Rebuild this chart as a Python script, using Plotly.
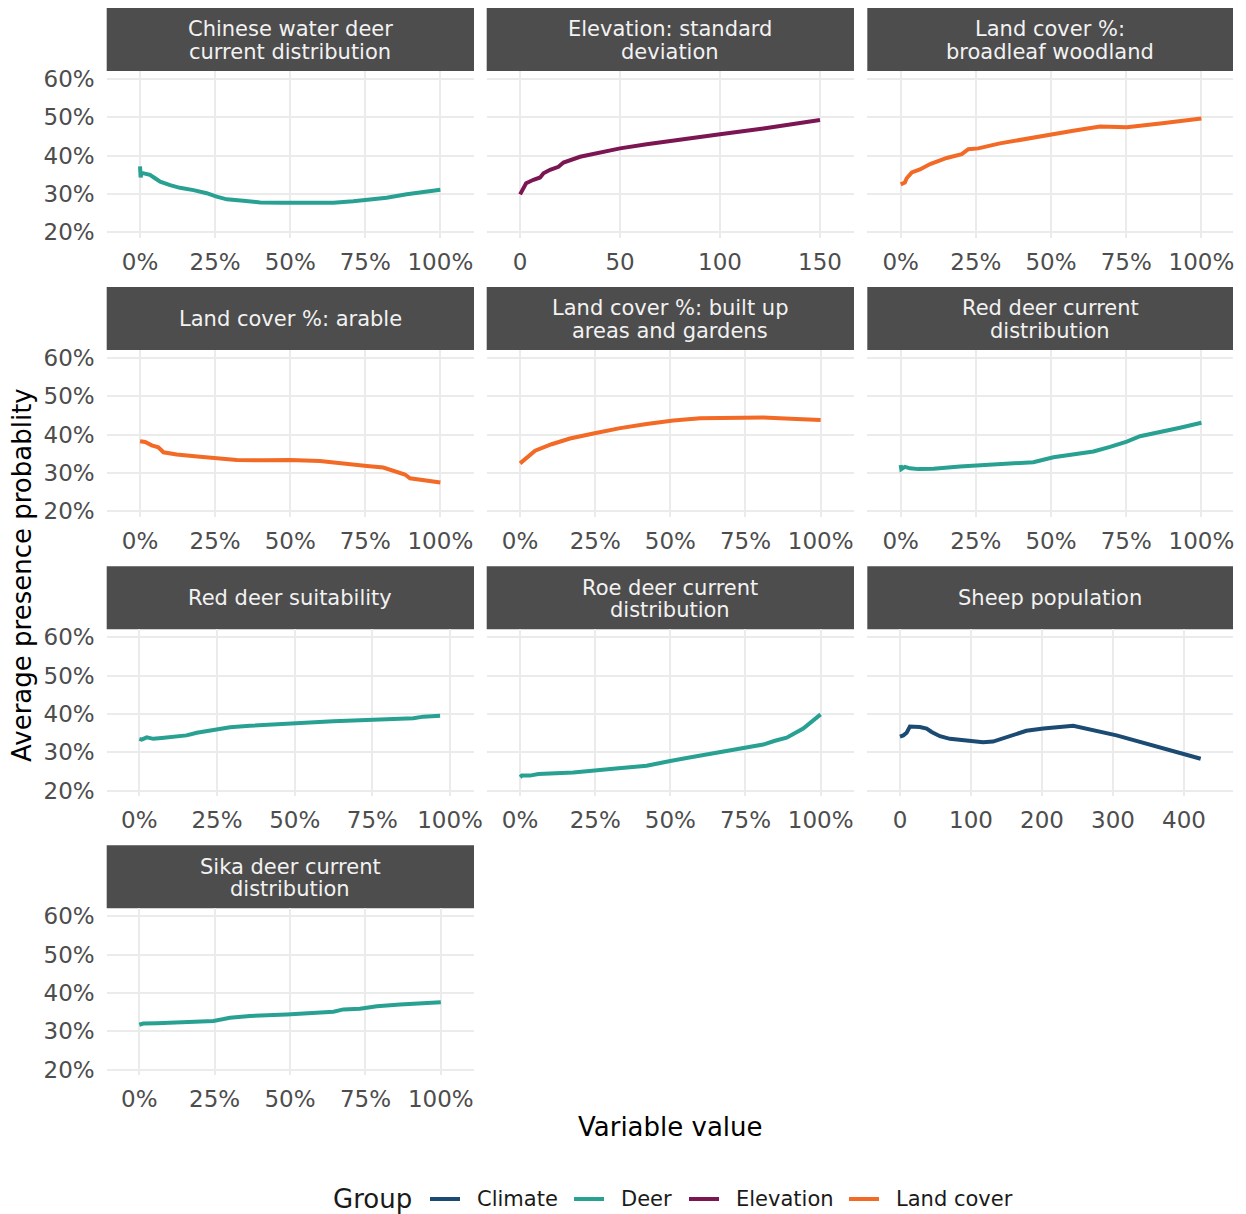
import plotly.graph_objects as go

W, H = 1246, 1214
PAGE_OFFSET = 8  # the page body adds an 8px margin round the figure div

# ---- data (x = variable value, y = average presence probability)
cwd_x = [0, 0.002, 0.005, 0.011, 0.033, 0.05, 0.067, 0.1, 0.133, 0.178, 0.222, 0.255, 0.289,
         0.344, 0.4, 0.477, 0.588, 0.644, 0.71, 0.755, 0.821, 0.888, 0.943, 1.0]
cwd_y = [0.372, 0.343, 0.355, 0.354, 0.35, 0.341, 0.332, 0.323, 0.316, 0.31, 0.302, 0.293, 0.286,
         0.282, 0.278, 0.277, 0.276, 0.277, 0.281, 0.284, 0.29, 0.299, 0.305, 0.311]

elev_x = [0, 1.3, 3, 6.7, 10, 11.7, 15, 19.2, 21.7, 30, 38.3, 50, 63.3, 80, 100, 121.7, 150]
elev_y = [0.299, 0.312, 0.328, 0.337, 0.343, 0.354, 0.363, 0.371, 0.382, 0.397, 0.406, 0.419,
          0.43, 0.443, 0.456, 0.471, 0.493]

broad_x = [0, 0.014, 0.02, 0.037, 0.064, 0.098, 0.153, 0.203, 0.225, 0.258, 0.33, 0.419, 0.497,
           0.574, 0.663, 0.752, 0.863, 1.0]
broad_y = [0.325, 0.33, 0.341, 0.356, 0.364, 0.378, 0.394, 0.404, 0.417, 0.419, 0.432, 0.445,
           0.454, 0.465, 0.476, 0.474, 0.484, 0.497]

arable_x = [0, 0.017, 0.039, 0.061, 0.078, 0.122, 0.2, 0.255, 0.322, 0.422, 0.499, 0.599, 0.644,
            0.699, 0.755, 0.81, 0.843, 0.882, 0.899, 0.943, 1.0]
arable_y = [0.383, 0.381, 0.372, 0.367, 0.354, 0.348, 0.342, 0.339, 0.334, 0.333, 0.334, 0.331,
            0.328, 0.323, 0.318, 0.314, 0.306, 0.296, 0.286, 0.281, 0.275]

built_x = [0, 0.05, 0.105, 0.166, 0.244, 0.333, 0.421, 0.51, 0.599, 0.698, 0.809, 0.92, 1.0]
built_y = [0.325, 0.358, 0.375, 0.39, 0.403, 0.417, 0.428, 0.437, 0.443, 0.445, 0.445, 0.441, 0.438]

redcur_x = [0, 0.002, 0.014, 0.031, 0.059, 0.109, 0.197, 0.308, 0.397, 0.441, 0.508, 0.585,
            0.641, 0.696, 0.752, 0.796, 0.863, 0.929, 1.0]
redcur_y = [0.321, 0.31, 0.316, 0.312, 0.31, 0.311, 0.317, 0.322, 0.327, 0.328, 0.341, 0.351,
            0.356, 0.368, 0.382, 0.396, 0.406, 0.418, 0.431]

redsuit_x = [0, 0.0075, 0.024, 0.045, 0.072, 0.109, 0.152, 0.185, 0.227, 0.26, 0.292, 0.356,
             0.431, 0.517, 0.624, 0.732, 0.839, 0.882, 0.914, 0.968]
redsuit_y = [0.335, 0.333, 0.339, 0.335, 0.337, 0.34, 0.344, 0.351, 0.356, 0.359, 0.365, 0.369,
             0.373, 0.376, 0.381, 0.384, 0.386, 0.389, 0.393, 0.395]

roe_x = [0, 0.006, 0.033, 0.061, 0.177, 0.266, 0.31, 0.421, 0.477, 0.504, 0.554, 0.643, 0.754,
         0.809, 0.848, 0.887, 0.942, 0.976, 1.0]
roe_y = [0.235, 0.239, 0.239, 0.243, 0.247, 0.252, 0.257, 0.265, 0.272, 0.278, 0.285, 0.298,
         0.312, 0.32, 0.33, 0.338, 0.362, 0.383, 0.399]

sheep_x = [0, 4.7, 9.4, 14, 28, 37.6, 44.6, 56.3, 70.4, 98.6, 117, 131, 145.5, 178, 202, 244,
           305, 357, 423.5]
sheep_y = [0.341, 0.344, 0.351, 0.367, 0.366, 0.362, 0.353, 0.342, 0.335, 0.328, 0.326, 0.328,
           0.337, 0.356, 0.362, 0.369, 0.344, 0.318, 0.283]

sika_x = [0, 0.013, 0.058, 0.146, 0.246, 0.301, 0.367, 0.489, 0.6, 0.644, 0.677, 0.732, 0.788,
          0.865, 1.0]
sika_y = [0.317, 0.32, 0.321, 0.323, 0.327, 0.335, 0.34, 0.344, 0.349, 0.351, 0.357, 0.359,
          0.365, 0.37, 0.376]

GROUPS = ["Climate", "Deer", "Elevation", "Land cover"]
GROUP_COLORS = {
    "Climate": "#1b4a72",
    "Deer": "#28a193",
    "Elevation": "#7b1653",
    "Land cover": "#f26a26",
}

PCT_TICKS = [0, 0.25, 0.5, 0.75, 1.0]

# (strip lines, group, x, y, tickvals, percent?, x range)
panels = [
    (["Chinese water deer", "current distribution"], "Deer", cwd_x, cwd_y, PCT_TICKS, True, [-0.111, 1.112]),
    (["Elevation: standard", "deviation"], "Elevation", elev_x, elev_y, [0, 50, 100, 150], False, [-16.7, 167]),
    (["Land cover %:", "broadleaf woodland"], "Land cover", broad_x, broad_y, PCT_TICKS, True, [-0.111, 1.105]),
    (["Land cover %: arable"], "Land cover", arable_x, arable_y, PCT_TICKS, True, [-0.111, 1.112]),
    (["Land cover %: built up", "areas and gardens"], "Land cover", built_x, built_y, PCT_TICKS, True, [-0.111, 1.111]),
    (["Red deer current", "distribution"], "Deer", redcur_x, redcur_y, PCT_TICKS, True, [-0.111, 1.105]),
    (["Red deer suitability"], "Deer", redsuit_x, redsuit_y, PCT_TICKS, True, [-0.105, 1.077]),
    (["Roe deer current", "distribution"], "Deer", roe_x, roe_y, PCT_TICKS, True, [-0.111, 1.111]),
    (["Sheep population"], "Climate", sheep_x, sheep_y, [0, 100, 200, 300, 400], False, [-46, 469]),
    (["Sika deer current", "distribution"], "Deer", sika_x, sika_y, PCT_TICKS, True, [-0.108, 1.110]),
]

# panel geometry in screen pixels
COL_X = [(106.7, 474.0), (486.7, 854.0), (867.3, 1233.0)]
ROW_TOP = [71.0, 350.0, 629.3, 908.3]
PANEL_H = 167.0
STRIP_H = 63.0


def px(x):
    return (x - PAGE_OFFSET) / W


def py(y):
    return 1 - (y - PAGE_OFFSET) / H


FONT = "DejaVu Sans"
TICK_COL = "#4d4d4d"
GRID = "#ebebeb"

fig = go.Figure()
shapes = []
annotations = []

for i, (strip, group, xs, ys, tv, pct, xr) in enumerate(panels):
    r, c = divmod(i, 3)
    n = "" if i == 0 else str(i + 1)
    x0, x1 = COL_X[c]
    top = ROW_TOP[r]
    bot = top + PANEL_H

    fig.add_trace(go.Scatter(
        x=xs, y=ys, mode="lines",
        line=dict(color=GROUP_COLORS[group], width=4),
        name=group, showlegend=False,
        xaxis="x" + n, yaxis="y" + n,
    ))

    fig.layout["xaxis" + n] = dict(
        domain=[px(x0), px(x1)], anchor="y" + n, range=xr,
        tickvals=tv, tickformat=".0%" if pct else "d",
        showgrid=True, gridcolor=GRID, gridwidth=2, zeroline=False, showline=False,
        ticks="", ticklabelstandoff=8, automargin=False,
        tickfont=dict(family=FONT, size=23, color=TICK_COL),
    )
    fig.layout["yaxis" + n] = dict(
        domain=[py(bot), py(top)], anchor="x" + n, range=[0.185, 0.621],
        tickvals=[0.2, 0.3, 0.4, 0.5, 0.6], tickformat=".0%",
        showticklabels=(c == 0),
        showgrid=True, gridcolor=GRID, gridwidth=2, zeroline=False, showline=False,
        ticks="", ticklabelstandoff=11, automargin=False,
        tickfont=dict(family=FONT, size=23, color=TICK_COL),
    )

    # facet strip
    shapes.append(dict(
        type="rect", xref="paper", yref="paper",
        x0=px(x0), x1=px(x1), y0=py(top), y1=py(top - STRIP_H),
        fillcolor="#4d4d4d", line=dict(width=0), layer="below",
    ))
    mid = top - STRIP_H / 2
    offs = [0] if len(strip) == 1 else [-10, 12]
    for line, off in zip(strip, offs):
        annotations.append(dict(
            text=line, xref="paper", yref="paper",
            x=px((x0 + x1) / 2), y=py(mid + off), xanchor="center", yanchor="middle",
            showarrow=False, font=dict(family=FONT, size=21, color="#f2f2f2"),
        ))

# axis titles
annotations.append(dict(
    text="Variable value", xref="paper", yref="paper",
    x=px(670), y=py(1127), xanchor="center", yanchor="middle",
    showarrow=False, font=dict(family=FONT, size=26, color="#000000"),
))
annotations.append(dict(
    text="Average presence probablity", xref="paper", yref="paper",
    x=px(22), y=py(575), xanchor="center", yanchor="middle", textangle=-90,
    showarrow=False, font=dict(family=FONT, size=26, color="#000000"),
))

# legend drawn at the bottom: title, then key line + label per group
LEG_Y = 1199
annotations.append(dict(
    text="Group", xref="paper", yref="paper", x=px(331), y=py(LEG_Y),
    xanchor="left", yanchor="middle", showarrow=False,
    font=dict(family=FONT, size=26, color="#1a1a1a"),
))
key_x = [430, 574, 689, 849]
for g, kx in zip(GROUPS, key_x):
    shapes.append(dict(
        type="line", xref="paper", yref="paper",
        x0=px(kx), x1=px(kx + 30), y0=py(LEG_Y), y1=py(LEG_Y),
        line=dict(color=GROUP_COLORS[g], width=4),
    ))
    annotations.append(dict(
        text=g, xref="paper", yref="paper", x=px(kx + 45), y=py(LEG_Y),
        xanchor="left", yanchor="middle", showarrow=False,
        font=dict(family=FONT, size=21, color="#1a1a1a"),
    ))

fig.update_layout(
    width=W, height=H, autosize=False,
    margin=dict(l=0, r=0, t=0, b=0, autoexpand=False),
    paper_bgcolor="#ffffff", plot_bgcolor="#ffffff",
    font=dict(family=FONT, color="#1a1a1a"),
    shapes=shapes, annotations=annotations,
    showlegend=False,
)

fig.write_html("out.html")
